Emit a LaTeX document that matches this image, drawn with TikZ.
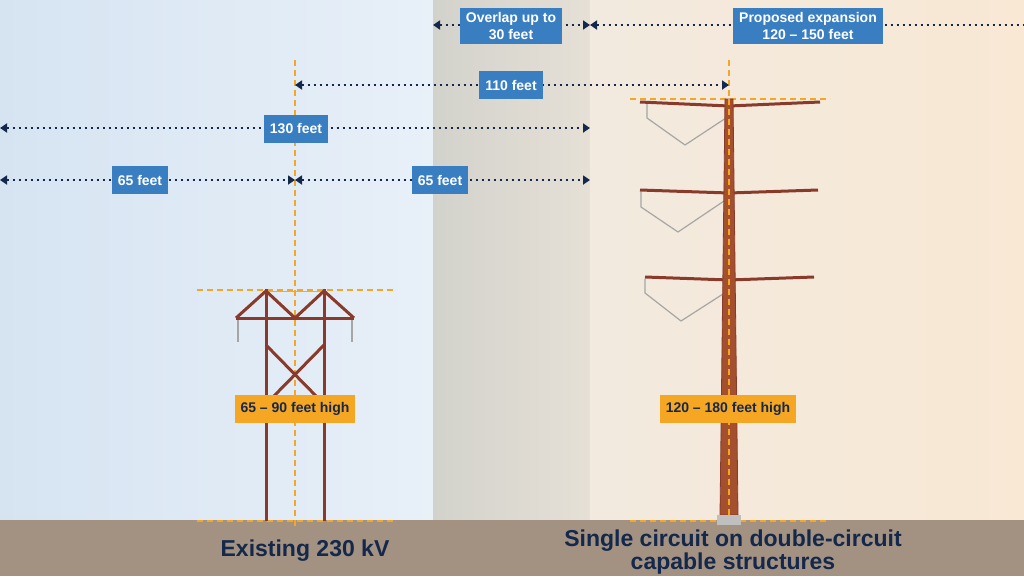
\documentclass[tikz,border=0pt]{standalone}
\usepackage{fontspec}
\setmainfont{Liberation Sans}
\usetikzlibrary{arrows.meta}
\definecolor{navy}{HTML}{14284B}
\definecolor{boxblue}{HTML}{3A7EC2}
\definecolor{guideorange}{HTML}{F5A623}
\definecolor{steelred}{HTML}{8A3A2A}
\definecolor{poleorange}{HTML}{A4502E}
\definecolor{groundc}{HTML}{A39182}
\definecolor{skyA}{HTML}{D6E4F2}
\definecolor{skyB}{HTML}{E8F0F8}
\definecolor{midA}{HTML}{D2D2CC}
\definecolor{midB}{HTML}{E6E0D6}
\definecolor{sandA}{HTML}{F2EADF}
\definecolor{sandB}{HTML}{F8E8D4}
\tikzset{
  dimline/.style={navy, line width=2pt, dash pattern=on 2pt off 4pt, {Triangle[width=9pt,length=7pt]}-{Triangle[width=9pt,length=7pt]}},
  dimbox/.style={fill=boxblue, text=white, font=\bfseries\fontsize{14}{17}\selectfont, align=center, inner xsep=6pt, inner ysep=4pt, minimum height=28pt},
  guide/.style={guideorange, line width=1.5pt, dash pattern=on 6pt off 4pt},
  heightbox/.style={fill=guideorange, text=navy, font=\bfseries\fontsize{14}{16}\selectfont, inner xsep=6pt, minimum height=28pt},
  steel/.style={steelred, line width=3pt},
  insulator/.style={gray!70, line width=1.2pt},
  caption/.style={navy, font=\bfseries\fontsize{23}{20}\selectfont, align=center}
}
\begin{document}
\begin{tikzpicture}[x=1pt, y=-1pt]
\useasboundingbox (0,0) rectangle (1024,576);
% Backgrounds
\shade[left color=skyA, right color=skyB] (0,0) rectangle (433,520);
\shade[left color=midA, right color=midB] (433,0) rectangle (590,520);
\shade[left color=sandA, right color=sandB] (590,0) rectangle (1024,520);
\fill[groundc] (0,520) rectangle (1024,576);

% Guides
\draw[guide] (295,60) -- (295,530);
\draw[guide] (197,290) -- (393,290);
\draw[guide] (197,521) -- (393,521);
\draw[guide] (729,60) -- (729,520);
\draw[guide] (630,99) -- (830,99);
\draw[guide] (630,521) -- (830,521);

% Dimension coordinates
\coordinate (ovL) at (433,25);
\coordinate (ovR) at (590,25);
\coordinate (exR) at (1024,25);
\coordinate (aL) at (295,85);
\coordinate (aR) at (729,85);
\coordinate (bL) at (0,128);
\coordinate (bR) at (590,128);
\coordinate (cL) at (0,180);
\coordinate (cM) at (295,180);
\coordinate (cR) at (590,180);

\draw[dimline] (ovL) -- (ovR);
\draw[dimline, {Triangle[width=9pt,length=7pt]}-] (ovR) -- (exR);
\draw[dimline] (aL) -- (aR);
\draw[dimline] (bL) -- (bR);
\draw[dimline] (cL) -- (cM);
\draw[dimline] (cM) -- (cR);

\node[dimbox] (overlap) at (511,26) {Overlap up to\\30 feet};
\node[dimbox] (proposed) at (808,26) {Proposed expansion\\120 -- 150 feet};
\node[dimbox] (ft110) at (511,85) {110 feet};
\node[dimbox] (ft130) at (296,129) {130 feet};
\node[dimbox] (ft65a) at (140,180) {65 feet};
\node[dimbox] (ft65b) at (440,180) {65 feet};

% Existing H-frame
\draw[gray!60, line width=0.8pt] (266,291) -- (324,291);
\draw[insulator] (238,318) -- (238,342);
\draw[insulator] (352,318) -- (352,342);
\draw[steel] (266,289) -- (266,521);
\draw[steel] (324,289) -- (324,521);
\draw[steel] (236,318) -- (354,318);
\draw[steel] (236,318) -- (266,291) -- (295,318) -- (324,291) -- (354,318);
\draw[steel] (266,345) -- (318,398);
\draw[steel] (324,345) -- (272,398);

% Monopole
\draw[insulator] (647,104) -- (647,118) -- (685,145) -- (726,118);
\draw[insulator] (641,192) -- (641,207) -- (678,232) -- (724,201);
\draw[insulator] (645,279) -- (645,293) -- (681,321) -- (723,294);
\draw[steel] (640,102) -- (729,106) -- (820,102);
\draw[steel] (640,190) -- (729,193) -- (818,190);
\draw[steel] (645,277) -- (729,280) -- (814,277);
\fill[poleorange, draw=steelred, line width=0.8pt] (725,99) -- (733,99) -- (738,515) -- (720,515) -- cycle;
\fill[gray!50] (717,515) rectangle (741,525);
\draw[guide] (729,99) -- (729,515);

\node[heightbox] (h1) at (295,409) {65 -- 90 feet high};
\node[heightbox] (h2) at (728,409) {120 -- 180 feet high};

\node[caption] (cap1) at (305,551) {Existing 230 kV};
\node[caption] (cap2) at (733,552) {Single circuit on double-circuit\\capable structures};
\end{tikzpicture}
\end{document}
